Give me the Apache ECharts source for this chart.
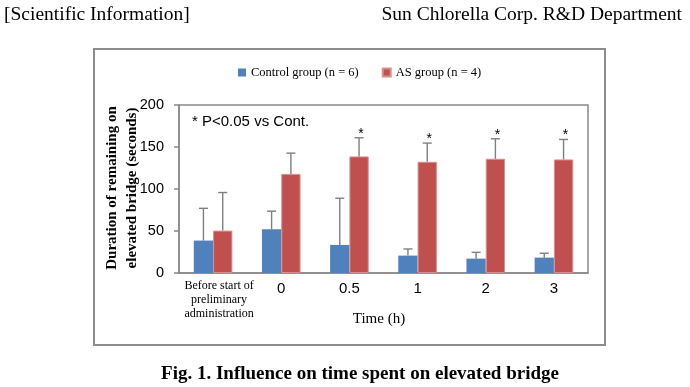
<!DOCTYPE html>
<html>
<head>
<meta charset="utf-8">
<script src="https://cdn.jsdelivr.net/npm/echarts@6/dist/echarts.min.js"></script>
<style>html,body{margin:0;padding:0;background:#fff;}#c{width:690px;height:387px;}</style>
</head>
<body>
<div id="c"></div>
<script>
const categories = ['Before start of\npreliminary\nadministration', '0', '0.5', '1', '2', '3'];
const seriesNames = ['Control group (n = 6)', 'AS group (n = 4)'];
const controlMean = [38.6, 52, 33.4, 20.7, 17.1, 18.3];
const controlSD = [38.4, 21.6, 55.6, 7.9, 7.5, 5.2];
const asMean = [50.5, 118, 138.8, 132.4, 136, 135.2];
const asSD = [45.3, 24.7, 22.2, 22.3, 23.8, 23.8];
const significant = [0, 0, 1, 1, 1, 1];
const yTicks = [0, 50, 100, 150, 200];

const BAR_W = 19.3;
const GRID_COLOR = '#898989';
const chart = echarts.init(document.getElementById('c'), null, {renderer: 'canvas'});

function errSeries(means, sds, side, sigs) {
  return {
    type: 'custom',
    z: 5,
    silent: true,
    data: means.map((m, i) => [i, m, sds[i], sigs ? sigs[i] : 0]),
    renderItem: function (params, api) {
      const idx = api.value(0), m = api.value(1), sd = api.value(2), sig = api.value(3);
      const base = api.coord([idx, m]);
      const top = api.coord([idx, m + sd]);
      const x = base[0] + side * BAR_W / 2;
      const st = {stroke: '#7f7f7f', lineWidth: 1.4};
      const children = [
        {type: 'line', shape: {x1: x, y1: base[1], x2: x, y2: top[1]}, style: st},
        {type: 'line', shape: {x1: x - 4.5, y1: top[1], x2: x + 4.5, y2: top[1]}, style: st}
      ];
      if (sig) {
        children.push({type: 'text', x: x + 2, y: top[1] - 4,
          style: {text: '*', fontSize: 14, fontFamily: 'Liberation Sans', fill: '#000', align: 'center', verticalAlign: 'middle'}});
      }
      return {type: 'group', children: children};
    }
  };
}

const option = {
  animation: false,
  backgroundColor: '#fff',
  grid: {left: 179, right: 102, top: 105, bottom: 114, show: true, borderColor: GRID_COLOR, borderWidth: 1.5, backgroundColor: 'transparent'},
  legend: {
    data: seriesNames, left: 233, top: 61, icon: 'rect', itemWidth: 8, itemHeight: 8, itemGap: 23,
    textStyle: {fontFamily: 'Liberation Serif', fontSize: 12.5, color: '#000'}
  },
  xAxis: {
    type: 'category', data: categories,
    axisLine: {show: true, lineStyle: {color: GRID_COLOR, width: 1.5}},
    axisTick: {show: false},
    axisLabel: {
      interval: 0, margin: 6, color: '#000',
      formatter: function (v, i) {
        if (i === 0) return v.split('\n').map(s => '{a|' + s + '}').join('\n');
        return '{n|' + v + '}';
      },
      rich: {
        a: {fontFamily: 'Liberation Serif', fontSize: 12, lineHeight: 14, color: '#000', padding: [0, 0, 0, 12]},
        n: {fontFamily: 'Liberation Sans', fontSize: 15, lineHeight: 15, color: '#000', padding: [5, 0, 0, 0]}
      }
    }
  },
  yAxis: {
    type: 'value', min: yTicks[0], max: yTicks[yTicks.length - 1], interval: 50,
    splitLine: {show: false},
    axisLine: {show: true, lineStyle: {color: GRID_COLOR, width: 1.5}},
    axisTick: {show: true, inside: false, length: 5, lineStyle: {color: GRID_COLOR, width: 1.5}},
    axisLabel: {margin: 15, fontFamily: 'Liberation Sans', fontSize: 14.5, color: '#000'}
  },
  series: [
    {name: seriesNames[0], type: 'bar', data: controlMean, barWidth: BAR_W, barGap: '0%', itemStyle: {color: '#4F81BD'}},
    {name: seriesNames[1], type: 'bar', data: asMean, barWidth: BAR_W, barGap: '0%', itemStyle: {color: '#C0504D', borderColor: '#D98E8C', borderWidth: 1}},
    errSeries(controlMean, controlSD, -1, null),
    errSeries(asMean, asSD, 1, significant)
  ],
  graphic: [
    {type: 'rect', shape: {x: 94, y: 49, width: 511, height: 296}, style: {fill: 'none', stroke: '#8c8c8c', lineWidth: 2}, z: -1},
    {type: 'text', x: 4, y: 15, style: {text: '[Scientific Information]', fontFamily: 'Liberation Serif', fontSize: 19.5, fill: '#000', align: 'left', verticalAlign: 'middle'}},
    {type: 'text', x: 682, y: 15, style: {text: 'Sun Chlorella Corp. R&D Department', fontFamily: 'Liberation Serif', fontSize: 19.5, fill: '#000', align: 'right', verticalAlign: 'middle'}},
    {type: 'text', x: 360, y: 374, style: {text: 'Fig. 1. Influence on time spent on elevated bridge', fontFamily: 'Liberation Serif', fontWeight: 'bold', fontSize: 19, fill: '#000', align: 'center', verticalAlign: 'middle'}},
    {type: 'text', x: 192, y: 122, style: {text: '* P<0.05 vs Cont.', fontFamily: 'Liberation Sans', fontSize: 15, fill: '#000', align: 'left', verticalAlign: 'middle'}},
    {type: 'text', x: 379, y: 319, style: {text: 'Time (h)', fontFamily: 'Liberation Serif', fontSize: 15, fill: '#000', align: 'center', verticalAlign: 'middle'}},
    {type: 'text', x: 112, y: 188, rotation: Math.PI / 2, style: {text: 'Duration of remaining on', fontFamily: 'Liberation Serif', fontWeight: 'bold', fontSize: 15, fill: '#000', align: 'center', verticalAlign: 'middle'}},
    {type: 'text', x: 132, y: 188, rotation: Math.PI / 2, style: {text: 'elevated bridge (seconds)', fontFamily: 'Liberation Serif', fontWeight: 'bold', fontSize: 15, fill: '#000', align: 'center', verticalAlign: 'middle'}}
  ]
};
chart.setOption(option);
</script>
</body>
</html>
